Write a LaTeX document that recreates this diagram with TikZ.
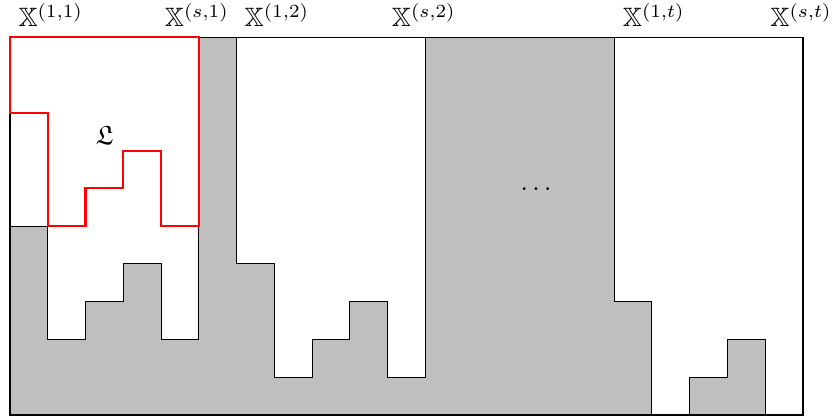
\documentclass[tikz,border=0pt]{standalone}
\usepackage{amssymb}
\begin{document}
\begin{tikzpicture}[scale=0.5]
            \useasboundingbox (-0.265,-0.08) rectangle (21.795,10.99);

            % Gray background of all columns
            \draw[fill=lightgray] (0,0) rectangle (21,10);

            % White part of the first block
            \draw[fill=white] (0,10) -- (5,10) -- (5,2) -- (4,2) -- (4,4) -- (3,4) -- (3,3) -- (2,3) -- (2,2) -- (1,2) -- (1,5) -- (0,5) -- cycle;

            % White part of the second block
            \draw[fill=white] (6,10) -- (11,10) -- (11,1) -- (10,1) -- (10,3) -- (9,3) -- (9,2) -- (8,2) -- (8,1) -- (7,1) -- (7,4) -- (6,4) -- cycle;

            % White part of the last block
            \draw[fill=white] (16,10) -- (21,10) -- (21,0) -- (20,0) -- (20,2) -- (19,2) -- (19,1) -- (18,1) -- (18,0) -- (17,0) -- (17,3) -- (16,3) -- cycle;

            % Region L (red)
            \draw[red, thick] (0,10) -- (5,10) -- (5,5) -- (4,5) -- (4,7) -- (3,7) -- (3,6) -- (2,6) -- (2,5) -- (1,5) -- (1,8) -- (0,8) -- cycle;
            \node (L) at (2.5,7.4) {$\mathfrak{L}$};

            % Omitted blocks
            \node (dots) at (13.93,5.99) {$\ldots$};

            % Column labels
            \node[anchor=base] (x11) at (1.08,10.28) {$\mathbb{X}^{(1,1)}$};
            \node[anchor=base] (xs1) at (4.95,10.28) {$\mathbb{X}^{(s,1)}$};
            \node[anchor=base] (x12) at (7.07,10.28) {$\mathbb{X}^{(1,2)}$};
            \node[anchor=base] (xs2) at (10.96,10.28) {$\mathbb{X}^{(s,2)}$};
            \node[anchor=base] (x1t) at (17.05,10.28) {$\mathbb{X}^{(1,t)}$};
            \node[anchor=base] (xst) at (20.95,10.28) {$\mathbb{X}^{(s,t)}$};
        \end{tikzpicture}
\end{document}
